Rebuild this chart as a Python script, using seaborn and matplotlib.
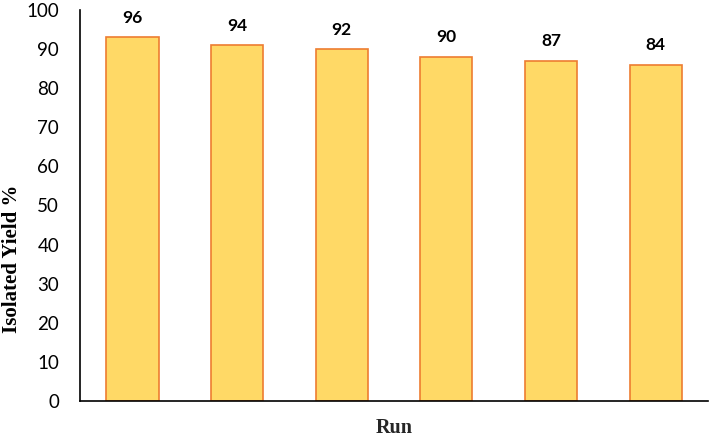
import matplotlib
matplotlib.use("Agg")
import matplotlib.pyplot as plt
import seaborn as sns
import pandas as pd

runs = ["1", "2", "3", "4", "5", "6"]
bar_heights = [93, 91, 90, 88, 87, 86]
bar_labels = ["96", "94", "92", "90", "87", "84"]

df = pd.DataFrame({"Run": runs, "Yield": bar_heights})

sns.set_theme(style="white")
plt.rcParams['font.family'] = ['Lato', 'DejaVu Sans']

W, H = 709, 441
fig = plt.figure(figsize=(W / 100, H / 100), dpi=100)
ax = fig.add_axes([80 / W, 1 - 401 / H, 628 / W, 391 / H])

sns.barplot(data=df, x="Run", y="Yield", ax=ax, color="#FFD966",
            saturation=1, width=0.5, edgecolor="#ED7D31", linewidth=1.2)

for patch, lab in zip(ax.patches, bar_labels):
    ax.annotate(lab, (patch.get_x() + patch.get_width() / 2, patch.get_height()),
                xytext=(0, 14), textcoords="offset points", ha="center", va="center",
                fontsize=12.5, fontweight="bold", color="black")

ax.set_ylim(0, 100)
ax.set_xlim(-0.5, 5.5)
ax.set_yticks(range(0, 101, 10))
ax.tick_params(axis="y", labelsize=13.5, length=0, pad=15, colors="black")
ax.set_xticks([])
ax.set_xlabel("Run", fontsize=14.5, fontweight="bold", family="Liberation Serif", labelpad=12)
ax.set_ylabel("")
fig.text(12 / W, 1 - 259 / H, "Isolated Yield %", rotation=90, ha="center", va="center",
         fontsize=15, fontweight="bold", family="Liberation Serif", color="black")

for s in ["top", "right"]:
    ax.spines[s].set_visible(False)
for s in ["left", "bottom"]:
    ax.spines[s].set_color("black")
    ax.spines[s].set_linewidth(1.2)

fig.savefig("out.png", dpi=100)
